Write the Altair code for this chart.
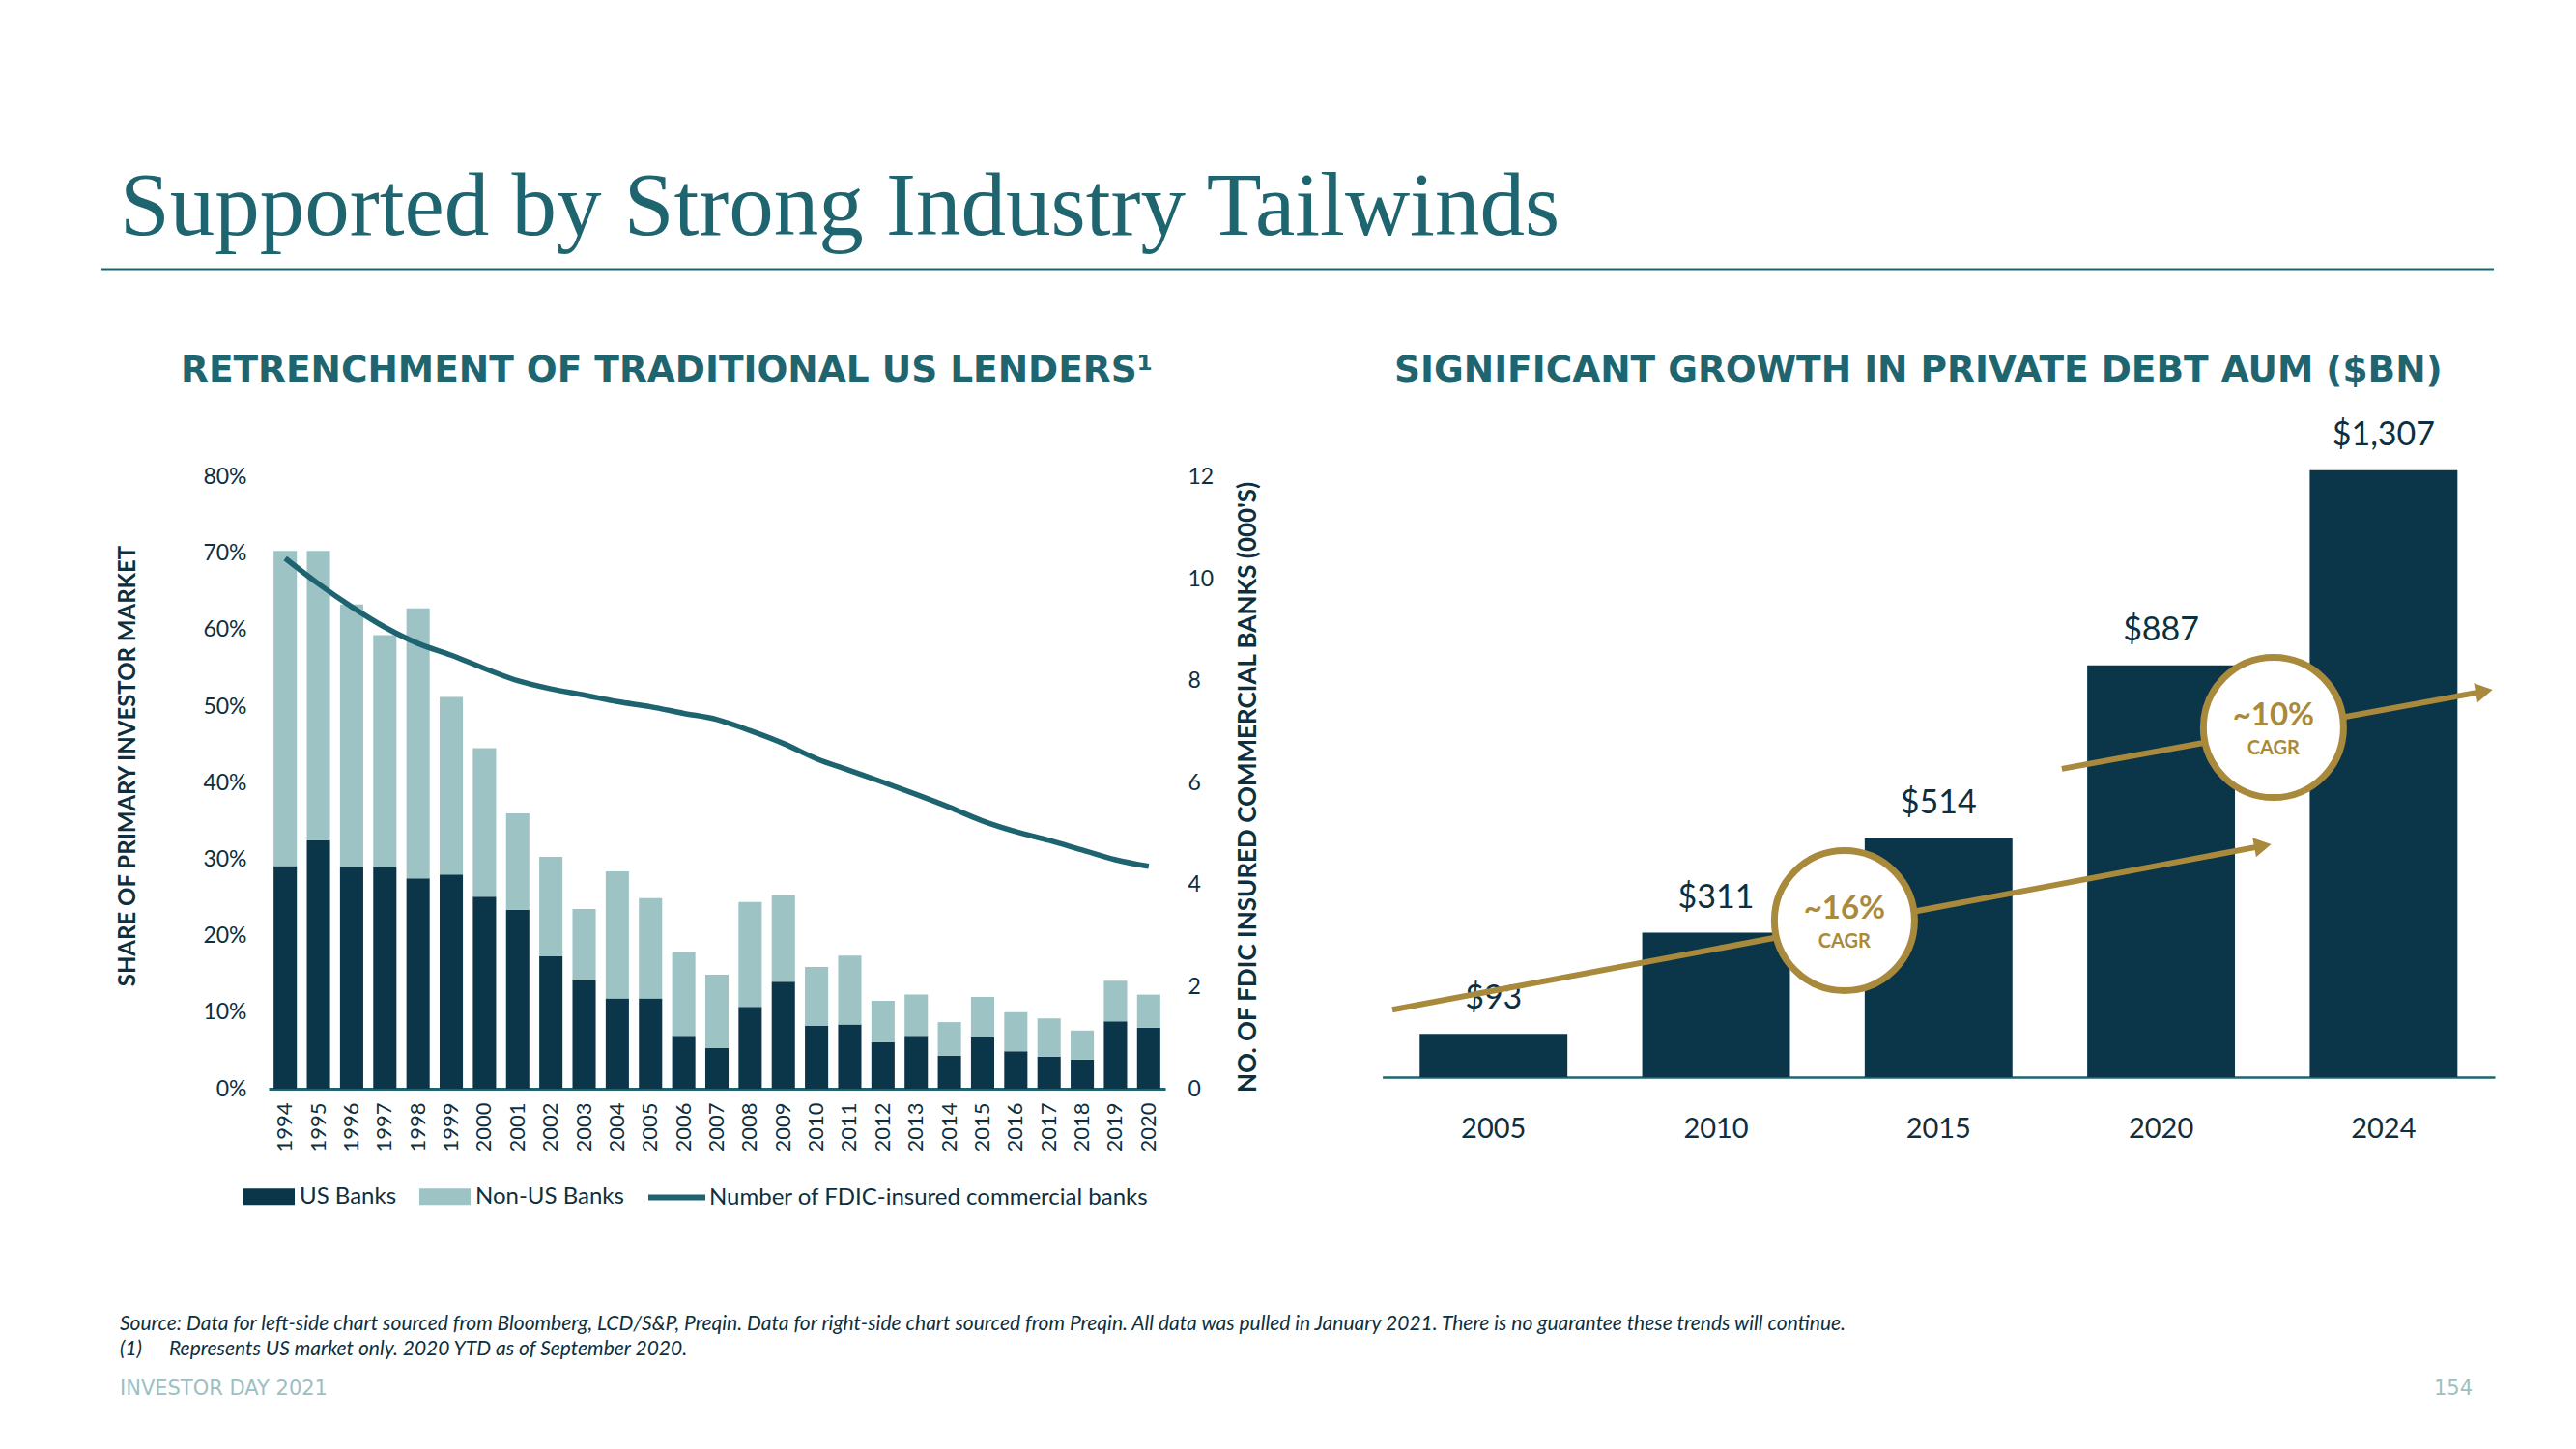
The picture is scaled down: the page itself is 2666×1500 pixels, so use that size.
import altair as alt
import pandas as pd

# ---------------- data ----------------
years = [str(y) for y in range(1994, 2021)]
us_banks = [29.1, 32.5, 29.0, 29.0, 27.5, 28.0, 25.1, 23.4, 17.3, 14.2, 11.8, 11.8, 6.9, 5.3,
            10.7, 14.0, 8.2, 8.4, 6.1, 6.9, 4.3, 6.7, 4.9, 4.2, 3.8, 8.8, 8.0]
non_us_banks = [41.2, 37.8, 34.3, 30.3, 35.3, 23.2, 19.4, 12.6, 13.0, 9.3, 16.6, 13.1, 10.9, 9.6,
                13.7, 11.3, 7.7, 9.0, 5.4, 5.4, 4.4, 5.3, 5.1, 5.0, 3.8, 5.3, 4.3]
fdic_banks = [10.4, 9.9, 9.45, 9.05, 8.73, 8.5, 8.24, 8.0, 7.84, 7.72, 7.59, 7.49, 7.36, 7.24,
              7.02, 6.77, 6.47, 6.24, 6.01, 5.77, 5.52, 5.25, 5.04, 4.87, 4.68, 4.49, 4.36]
share_ticks = [0, 10, 20, 30, 40, 50, 60, 70, 80]
count_ticks = [0, 2, 4, 6, 8, 10, 12]
bank_types = ["US Banks", "Non-US Banks"]
line_series = "Number of FDIC-insured commercial banks"

aum_years = ["2005", "2010", "2015", "2020", "2024"]
aum_values = [93, 311, 514, 887, 1307]

# CAGR annotations (x in bar-slot units 0..5, y in $bn)
arrow_x_start = [0.045, 3.054]
arrow_y_start = [145, 664]
arrow_x_end = [3.957, 4.952]
arrow_y_end = [498, 831]
cagr_x = [2.077, 4.005]
cagr_y = [337, 753]
cagr_text = ["~16%", "~10%"]

title_text = "Supported by Strong Industry Tailwinds"
left_subtitle = "RETRENCHMENT OF TRADITIONAL US LENDERS\u00b9"
right_subtitle = "SIGNIFICANT GROWTH IN PRIVATE DEBT AUM ($BN)"
left_axis_title = "SHARE OF PRIMARY INVESTOR MARKET"
right_axis_title = "NO. OF FDIC INSURED COMMERCIAL BANKS (000'S)"
source_note = ("Source: Data for left-side chart sourced from Bloomberg, LCD/S&P, Preqin. Data for right-side "
               "chart sourced from Preqin. All data was pulled in January 2021. There is no guarantee these trends will continue.")
footnote_mark = "(1)"
footnote_text = "Represents US market only. 2020 YTD as of September 2020."
footer_left = "INVESTOR DAY 2021"
footer_right = "154"

# ---------------- styling ----------------
W, H = 2650, 1480
NAVY = "#0B3548"
LIGHT = "#9DC3C4"
TEAL = "#1F6570"
LINE = "#1E6470"
GOLD = "#A98A3C"
TEXT = "#0D2F40"
FOOT = "#9CC0C2"
SANS = "Lato"

L_X = [270, 1198]
L_Y = [1119, 485.5]
R_X = [1422.6, 2574]
R_BASE = 1107
R_Y = [R_BASE, R_BASE - 1400 * 0.4806]

# ---------------- tables ----------------
bars_df = pd.DataFrame({
    "year": years * 2,
    "type": [bank_types[0]] * len(years) + [bank_types[1]] * len(years),
    "share": us_banks + non_us_banks,
    "stack": [0] * len(years) + [1] * len(years),
})
line_df = pd.DataFrame({"year": years, "count": fdic_banks, "series": [line_series] * len(years)})
aum_df = pd.DataFrame({"year": aum_years, "aum": aum_values})
arrow_df = pd.DataFrame({"x": arrow_x_start, "y": arrow_y_start, "x2": arrow_x_end, "y2": arrow_y_end})
cagr_df = pd.DataFrame({"x": cagr_x, "y": cagr_y, "pct": cagr_text, "cagr": ["CAGR", "CAGR"]})

# ---------------- left chart ----------------
bars = alt.Chart(bars_df).mark_bar().encode(
    x=alt.X("year:O", sort=years,
            scale=alt.Scale(type="band", range=L_X, paddingInner=0.3, paddingOuter=0.15),
            axis=alt.Axis(orient="bottom", offset=L_Y[0] - H, title=None, ticks=False, grid=False,
                          domainColor=LINE, domainWidth=3, labelAngle=-90, labelPadding=14,
                          labelFont=SANS, labelFontSize=22, labelColor=TEXT)),
    y=alt.Y("share:Q", stack="zero",
            scale=alt.Scale(domain=[0, 80], range=L_Y, nice=False, zero=True),
            axis=alt.Axis(orient="left", offset=-L_X[0], values=share_ticks, labelExpr="datum.value + '%'",
                          title=None, domain=False, ticks=False, grid=False, labelPadding=23,
                          labelFont=SANS, labelFontSize=23, labelColor=TEXT)),
    color=alt.Color("type:N", scale=alt.Scale(domain=bank_types, range=[NAVY, LIGHT]),
                    legend=alt.Legend(orient="none", legendX=244, legendY=1204, direction="horizontal",
                                      title=None, symbolType="M-1,-0.32H1V0.32H-1Z", symbolSize=53 * 53,
                                      symbolStrokeWidth=0, labelFont=SANS, labelFontSize=24, labelColor=TEXT,
                                      labelOffset=5, columnPadding=23, padding=0, labelLimit=0)),
    order=alt.Order("stack:Q", sort="ascending"),
)

line = alt.Chart(line_df).mark_line(strokeWidth=5.5, interpolate="monotone").encode(
    x=alt.X("year:O", sort=years,
            scale=alt.Scale(type="point", range=L_X, padding=0.5), axis=None),
    y=alt.Y("count:Q",
            scale=alt.Scale(domain=[0, 12], range=L_Y, nice=False, zero=True),
            axis=alt.Axis(orient="right", offset=L_X[1] - W, values=count_ticks, title=None,
                          domain=False, ticks=False, grid=False, labelPadding=23,
                          labelFont=SANS, labelFontSize=23, labelColor=TEXT)),
    stroke=alt.Stroke("series:N", scale=alt.Scale(domain=[line_series], range=[LINE]),
                      legend=alt.Legend(orient="none", legendX=660, legendY=1199, direction="horizontal",
                                        title=None, symbolType="stroke", symbolSize=59 * 59,
                                        symbolStrokeWidth=6, labelFont=SANS, labelFontSize=24,
                                        labelColor=TEXT, labelOffset=1, padding=0, labelLimit=0)),
)

# ---------------- right chart ----------------
ry_scale = alt.Scale(domain=[0, 1400], range=R_Y, nice=False, zero=True)

aum_bars = alt.Chart(aum_df).mark_bar(color=NAVY).encode(
    x=alt.X("year:O", sort=aum_years,
            scale=alt.Scale(type="band", range=R_X, paddingInner=0.336, paddingOuter=0.168),
            axis=alt.Axis(orient="bottom", offset=R_BASE - H, title=None, ticks=False, grid=False,
                          domainColor=LINE, domainWidth=2.5, labelAngle=0, labelPadding=53,
                          labelBaseline="middle", labelFont=SANS, labelFontSize=29, labelColor=TEXT)),
    y=alt.Y("aum:Q", scale=ry_scale, axis=None),
)

aum_labels = alt.Chart(aum_df).transform_calculate(
    label="'$' + format(datum.aum, ',')"
).mark_text(dy=-26, baseline="alphabetic", font=SANS, fontSize=34, color=TEXT).encode(
    x=alt.X("year:O", sort=aum_years,
            scale=alt.Scale(type="band", range=R_X, paddingInner=0.336, paddingOuter=0.168), axis=None),
    y=alt.Y("aum:Q", scale=ry_scale, axis=None),
    text="label:N",
)

qx_scale = alt.Scale(domain=[0, 5], range=R_X, nice=False, zero=False)

arrows = alt.Chart(arrow_df).mark_rule(color=GOLD, strokeWidth=6).encode(
    x=alt.X("x:Q", scale=qx_scale, axis=None),
    y=alt.Y("y:Q", scale=ry_scale, axis=None),
    x2="x2:Q",
    y2="y2:Q",
)

heads = alt.Chart(arrow_df).mark_point(shape="triangle-right", size=420, filled=True, color=GOLD,
                                        opacity=1, angle=349.5).encode(
    x=alt.X("x2:Q", scale=qx_scale, axis=None),
    y=alt.Y("y2:Q", scale=ry_scale, axis=None),
)

circles = alt.Chart(cagr_df).mark_point(shape="circle", size=145 * 145, fill="white", stroke=GOLD,
                                         strokeWidth=7, opacity=1, fillOpacity=1).encode(
    x=alt.X("x:Q", scale=qx_scale, axis=None),
    y=alt.Y("y:Q", scale=ry_scale, axis=None),
)

cagr_pct = alt.Chart(cagr_df).mark_text(dy=-12, font=SANS, fontSize=33, fontWeight="bold", color=GOLD).encode(
    x=alt.X("x:Q", scale=qx_scale, axis=None),
    y=alt.Y("y:Q", scale=ry_scale, axis=None),
    text="pct:N",
)
cagr_lbl = alt.Chart(cagr_df).mark_text(dy=22, font=SANS, fontSize=20, fontWeight="bold", color=GOLD).encode(
    x=alt.X("x:Q", scale=qx_scale, axis=None),
    y=alt.Y("y:Q", scale=ry_scale, axis=None),
    text="cagr:N",
)


# ---------------- page texts ----------------
def text_layer(txt, x, y, **style):
    return alt.Chart(pd.DataFrame({"t": [txt]})).mark_text(**style).encode(
        text="t:N", x=alt.value(x), y=alt.value(y))


title = text_layer(title_text, 116, 235, align="left", baseline="alphabetic",
                   font="Liberation Serif", fontSize=93, color=TEAL)
title_rule = alt.Chart(pd.DataFrame({"t": [0]})).mark_rule(color=TEAL, strokeWidth=3).encode(
    x=alt.value(97), x2=alt.value(2573), y=alt.value(271))
sub_left = text_layer(left_subtitle, 179, 376, align="left", baseline="middle",
                      font="DejaVu Sans", fontSize=37.5, fontWeight="bold", color=TEAL)
sub_right = text_layer(right_subtitle, 1435, 376, align="left", baseline="middle",
                       font="DejaVu Sans", fontSize=37.5, fontWeight="bold", color=TEAL)
ytitle_left = text_layer(left_axis_title, 125, 785, align="center", baseline="middle", angle=270,
                         font=SANS, fontSize=24, fontWeight="bold", color=TEXT)
ytitle_right = text_layer(right_axis_title, 1284, 807, align="center", baseline="middle", angle=270,
                          font=SANS, fontSize=26, fontWeight="bold", color=TEXT)
src = text_layer(source_note, 116, 1363, align="left", baseline="middle", font=SANS,
                 fontSize=21, fontStyle="italic", color=TEXT)
fn_mark = text_layer(footnote_mark, 116, 1389, align="left", baseline="middle", font=SANS,
                     fontSize=21, fontStyle="italic", color=TEXT)
fn_text = text_layer(footnote_text, 167, 1389, align="left", baseline="middle", font=SANS,
                     fontSize=21, fontStyle="italic", color=TEXT)
foot_l = text_layer(footer_left, 116, 1430, align="left", baseline="middle",
                    font="DejaVu Sans", fontSize=21, color=FOOT)
foot_r = text_layer(footer_right, 2551, 1430, align="right", baseline="middle",
                    font="DejaVu Sans", fontSize=21, color=FOOT)

chart = alt.layer(
    bars, line,
    aum_bars, aum_labels, arrows, heads, circles, cagr_pct, cagr_lbl,
    title, title_rule, sub_left, sub_right, ytitle_left, ytitle_right,
    src, fn_mark, fn_text, foot_l, foot_r,
).resolve_scale(
    x="independent", y="independent"
).properties(
    width=W, height=H, padding=0,
    autosize=alt.AutoSizeParams(type="none"),
    background="white",
).configure_view(stroke=None)

chart.save("out.html", embed_options={"renderer": "svg", "actions": False})
